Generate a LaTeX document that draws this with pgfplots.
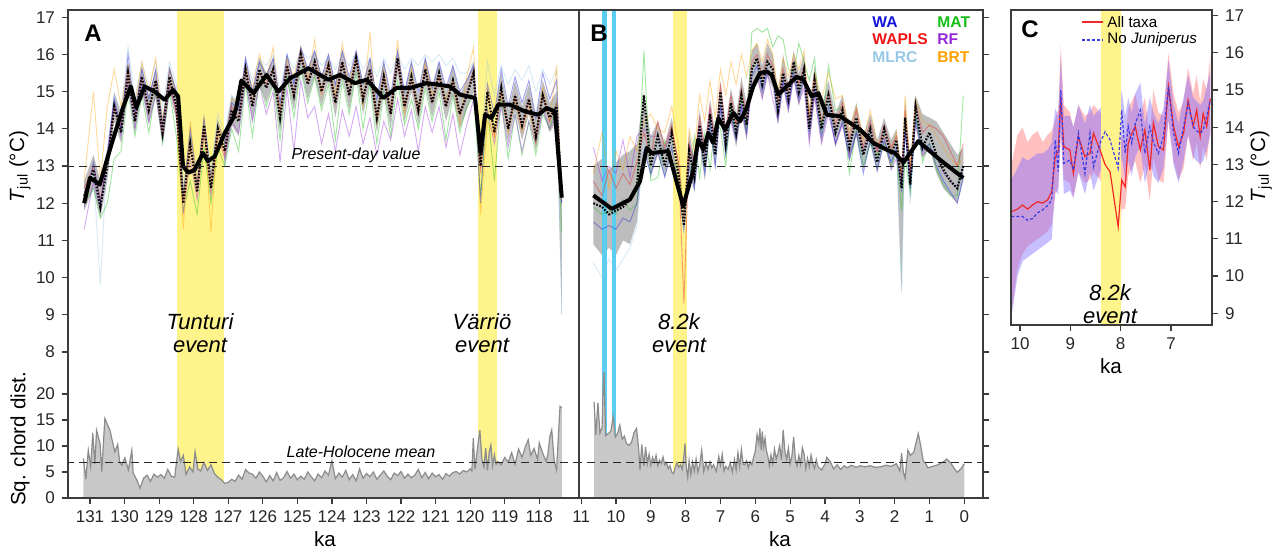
\documentclass[border=0pt]{standalone}
\usepackage{fontspec}
\setmainfont{Liberation Sans}
\usepackage{pgfplots}
\usepackage{pgfplotstable}
\pgfplotsset{compat=1.18}
\usepgfplotslibrary{fillbetween}

\definecolor{cWA}{RGB}{20,20,220}
\definecolor{cWAPLS}{RGB}{240,20,20}
\definecolor{cMLRC}{RGB}{150,200,230}
\definecolor{cMAT}{RGB}{20,190,20}
\definecolor{cRF}{RGB}{150,40,220}
\definecolor{cBRT}{RGB}{255,160,0}
\definecolor{yel}{RGB}{255,244,140}
\definecolor{cyanb}{RGB}{90,205,240}
\definecolor{framecol}{RGB}{60,60,60}
\definecolor{chfill}{RGB}{200,200,200}
\definecolor{chline}{RGB}{140,140,140}
\definecolor{cRed}{RGB}{240,40,40}
\definecolor{cBlue}{RGB}{60,60,230}
\definecolor{bandR}{RGB}{255,150,150}
\definecolor{bandB}{RGB}{130,110,255}

% Panel A: ka, mean (dotted), band lo/hi, six methods
\pgfplotstableread{
ka D lo hi wa wp ml mt rf br
131.17 12.2 11.8 12.6 11.9 12.4 12.3 12.0 11.3 12.6
130.9 12.9 12.4 13.3 13.1 13.0 12.8 12.4 12.6 15.0
130.7 11.9 11.6 12.6 12.0 12.1 9.8 11.6 11.8 12.6
130.5 13.0 12.6 13.5 13.2 13.1 13.4 12.0 13.3 14.6
130.3 14.6 14.2 15.0 14.8 14.6 14.9 13.2 14.7 15.6
130.1 13.9 13.6 14.4 14.0 14.1 14.5 13.4 13.8 14.6
129.9 15.5 15.1 15.8 16.0 15.5 16.2 15.0 15.2 15.7
129.7 14.2 13.9 14.6 14.4 14.3 14.8 13.8 14.0 14.7
129.5 15.4 15.0 15.7 15.6 15.4 15.8 14.9 15.2 15.8
129.3 14.5 14.1 14.9 14.8 14.5 15.1 13.9 14.2 15.0
129.1 15.3 14.9 15.6 15.6 15.3 15.8 15.0 14.9 15.9
128.9 13.9 13.6 14.3 14.1 13.8 14.6 13.6 13.7 14.2
128.7 15.4 15.0 15.7 15.6 15.3 15.8 15.0 15.1 15.6
128.5 14.6 14.2 15.0 15.0 14.4 15.2 13.8 14.5 14.9
128.3 12.0 11.7 12.5 12.2 12.0 12.4 11.8 11.7 11.3
128.1 13.6 13.2 14.0 14.0 13.6 13.9 12.6 13.2 14.2
127.9 12.3 12.0 12.7 12.5 12.3 12.8 11.7 12.1 12.6
127.7 14.1 13.7 14.4 14.3 14.0 14.2 13.5 13.9 14.3
127.5 12.4 12.1 12.8 12.7 12.4 12.9 12.0 12.2 11.2
127.3 14.0 13.6 14.4 14.2 14.0 14.4 13.5 13.8 14.1
127.1 13.4 13.0 13.8 13.6 13.3 13.9 13.0 13.2 13.6
126.9 14.5 14.1 14.9 14.7 14.6 14.9 14.0 14.2 14.8
126.7 14.2 13.8 14.6 14.5 14.3 14.7 13.4 13.9 14.8
126.5 15.6 15.2 15.9 15.9 15.6 15.9 15.2 15.3 15.7
126.3 14.6 14.2 15.0 15.0 14.7 15.3 13.8 14.2 15.1
126.1 15.6 15.2 15.9 15.8 15.5 15.9 15.3 15.2 16.0
125.9 15.1 14.7 15.5 15.4 15.2 15.7 14.6 14.4 15.3
125.7 15.6 15.2 15.9 15.9 15.6 16.0 15.2 15.0 16.2
125.5 14.3 13.9 14.8 14.7 14.4 15.0 13.7 13.1 14.5
125.3 15.7 15.3 16.0 16.0 15.7 16.0 15.4 15.1 15.9
125.1 14.9 14.5 15.3 15.2 14.9 15.6 14.3 13.4 15.4
124.9 16.0 15.6 16.2 16.2 16.0 16.1 15.6 15.3 16.2
124.7 15.2 14.8 15.6 15.6 15.3 15.9 14.7 14.3 15.3
124.5 15.8 15.4 16.1 16.1 15.8 16.0 15.4 14.6 16.4
124.3 15.0 14.6 15.4 15.4 15.0 15.7 14.5 13.6 14.9
124.1 15.7 15.3 16.0 16.0 15.8 15.9 15.2 14.4 15.8
123.9 14.7 14.3 15.2 15.2 14.7 15.6 13.7 13.4 14.9
123.7 15.8 15.4 16.1 16.1 15.8 16.0 15.3 14.5 16.3
123.5 14.9 14.5 15.3 15.4 14.9 15.7 14.4 13.8 15.2
123.3 15.9 15.5 16.1 16.1 15.9 16.0 15.5 14.6 16.0
123.1 14.8 14.4 15.2 15.2 14.8 15.6 14.0 13.6 14.6
122.9 15.6 15.2 15.9 15.9 15.6 15.9 15.2 14.3 16.6
122.7 14.3 13.9 14.8 14.8 14.3 15.4 13.6 13.3 14.1
122.5 15.4 15.0 15.8 15.8 15.4 15.9 15.0 14.2 15.6
122.3 14.4 14.0 14.8 14.9 14.4 15.5 13.8 13.7 14.5
122.1 15.9 15.5 16.1 16.1 15.8 16.0 15.3 14.8 16.4
121.9 14.6 14.2 15.0 15.0 14.6 15.6 14.1 13.8 14.4
121.7 15.4 15.0 15.8 15.8 15.3 15.9 14.8 14.5 15.6
121.5 14.5 14.1 14.9 15.0 14.4 15.7 14.0 13.4 14.4
121.3 15.6 15.2 15.9 15.9 15.6 16.0 15.1 14.6 15.8
121.1 14.7 14.3 15.1 15.1 14.7 15.8 14.2 13.9 14.9
120.9 15.5 15.1 15.8 15.8 15.4 16.0 15.0 14.6 15.4
120.7 14.6 14.2 15.0 15.1 14.6 15.7 13.7 13.5 14.8
120.5 15.3 14.9 15.7 15.7 15.3 15.9 14.9 14.4 15.3
120.3 14.4 14.0 14.9 15.0 14.4 15.5 13.9 13.3 14.1
120.1 14.9 14.5 15.3 15.3 14.9 15.5 14.6 14.1 15.4
119.9 15.5 15.0 15.8 15.7 15.6 15.8 14.9 14.8 16.2
119.7 13.0 12.6 13.6 12.0 12.8 13.4 12.2 13.0 11.7
119.5 15.0 14.6 15.4 15.2 15.0 15.8 14.6 14.5 14.2
119.3 13.9 13.5 14.4 14.4 13.8 14.9 12.6 13.6 13.8
119.1 15.1 14.7 15.5 15.6 15.0 15.7 14.8 14.6 15.0
118.9 14.0 13.6 14.5 14.6 14.0 15.2 13.2 13.5 13.9
118.7 14.9 14.5 15.3 15.4 14.9 15.6 14.4 14.4 14.8
118.5 14.1 13.7 14.6 14.7 14.0 15.3 13.3 13.4 13.9
118.3 14.8 14.4 15.2 15.3 14.8 15.7 14.2 14.2 14.6
118.1 13.8 13.4 14.3 14.3 13.8 15.0 13.3 13.6 13.6
117.9 14.9 14.5 15.3 15.5 14.9 15.6 14.4 14.5 15.1
117.7 14.3 13.9 14.7 14.8 14.2 15.2 14.0 14.0 14.2
117.5 14.6 14.2 15.0 15.3 14.7 15.6 14.7 14.4 15.7
117.35 12.2 9.0 12.6 12.0 12.3 9.0 11.2 12.0 12.1
}\tabA

\pgfplotstableread{
ka T
131.17 12.0
131.0 12.68
130.86 12.6
130.72 12.5
130.38 13.58
130.05 14.56
129.82 15.14
129.66 14.57
129.42 15.14
129.13 15.0
128.84 14.78
128.6 15.05
128.45 14.87
128.31 13.0
128.16 12.82
127.97 12.9
127.73 13.35
127.59 13.13
127.39 13.26
127.1 13.89
126.86 14.29
126.77 14.56
126.62 15.3
126.27 14.96
125.89 15.45
125.55 15.0
125.21 15.36
124.68 15.63
124.10 15.32
123.77 15.45
123.33 15.23
122.99 15.32
122.51 14.83
122.13 15.1
121.74 15.1
121.26 15.23
120.58 15.14
120.29 14.92
119.86 14.83
119.70 13.35
119.57 14.38
119.38 14.29
119.19 14.65
118.85 14.65
118.42 14.47
118.03 14.38
117.79 14.56
117.55 14.47
117.35 12.15
}\smA

\pgfplotstableread{
ka c
131.19 7.6
131.12 3.6
131.05 9.2
130.98 6.0
130.92 12.5
130.86 6.5
130.81 13.0
130.71 10.5
130.66 5.1
130.57 15.3
130.50 14.2
130.42 13.0
130.35 10.8
130.28 8.9
130.20 10.3
130.14 6.9
130.08 6.3
129.99 7.7
129.89 5.4
129.79 9.2
129.75 4.8
129.65 3.5
129.55 1.9
129.45 3.8
129.35 4.4
129.25 3.2
129.15 4.6
129.05 4.0
128.95 4.5
128.85 3.8
128.75 5.5
128.65 4.2
128.55 4.0
128.45 9.4
128.38 7.0
128.30 8.2
128.22 4.5
128.12 6.0
128.02 5.0
127.96 8.9
127.88 5.6
127.80 5.2
127.70 6.8
127.60 5.3
127.50 6.4
127.40 4.7
127.30 4.0
127.20 3.5
127.10 2.8
127.00 3.0
126.90 3.6
126.80 3.2
126.70 4.4
126.60 3.6
126.50 5.5
126.40 4.8
126.30 4.6
126.20 3.8
126.10 5.0
126.00 4.2
125.90 3.1
125.80 4.3
125.70 3.3
125.60 4.9
125.50 3.4
125.40 3.9
125.30 5.1
125.20 3.8
125.10 4.6
125.00 3.5
124.90 4.2
124.80 3.6
124.70 5.0
124.60 4.1
124.50 3.3
124.40 4.6
124.30 3.9
124.20 5.2
124.10 4.4
124.00 7.2
123.90 3.7
123.80 4.8
123.70 4.0
123.60 5.3
123.50 3.5
123.40 4.5
123.30 3.3
123.20 5.6
123.10 3.8
123.00 4.7
122.90 4.1
122.80 5.0
122.70 3.6
122.60 4.4
122.50 5.2
122.40 4.2
122.30 3.5
122.20 4.8
122.10 4.3
122.00 5.1
121.90 3.8
121.80 4.6
121.70 3.9
121.60 4.4
121.50 5.5
121.40 3.9
121.30 4.9
121.20 3.7
121.10 4.8
121.00 4.1
120.90 4.5
120.80 3.6
120.70 4.7
120.60 4.2
120.50 4.9
120.40 5.1
120.30 4.6
120.20 5.3
120.10 5.0
120.00 5.6
119.95 5.2
119.91 11.5
119.86 5.5
119.80 9.0
119.72 13.1
119.66 7.4
119.60 6.0
119.55 9.6
119.50 5.3
119.45 8.8
119.40 10.2
119.35 6.2
119.30 8.3
119.25 6.5
119.20 7.0
119.10 6.4
119.00 7.8
118.90 6.9
118.80 8.7
118.70 6.5
118.60 9.4
118.50 7.8
118.40 9.9
118.32 11.2
118.25 8.2
118.15 9.5
118.05 7.4
118.00 10.6
117.90 8.6
117.80 7.0
117.75 8.5
117.70 11.6
117.64 13.1
117.57 7.3
117.50 5.4
117.40 17.6
117.35 17.4
}\chA

% Panel B
\pgfplotstableread{
ka D lo hi wa wp ml mt rf br
10.65 12.0 10.9 13.0 11.5 12.6 10.4 11.9 13.5 12.8
10.4 11.9 10.6 13.2 11.3 12.2 10.0 11.7 12.6 13.9
10.2 11.7 10.8 12.9 11.4 12.9 10.5 11.8 13.0 12.4
10.0 11.8 10.6 13.1 11.3 12.4 10.2 11.7 12.8 13.4
9.8 11.9 11.0 13.3 11.6 12.8 10.5 12.1 13.7 12.9
9.6 12.1 10.9 13.4 11.5 12.5 10.8 11.8 12.7 13.8
9.4 12.4 11.5 13.6 12.0 13.1 11.4 12.0 13.8 13.4
9.2 14.9 13.6 15.0 13.4 13.9 13.6 16.1 14.0 14.2
9.0 13.0 12.7 13.8 12.8 13.3 12.7 12.6 13.8 14.4
8.8 13.8 13.3 14.2 13.4 14.2 13.6 12.7 13.8 14.0
8.6 13.0 12.7 13.6 12.7 13.5 12.8 13.7 13.4 13.9
8.4 13.9 13.3 14.3 13.5 14.1 13.7 13.1 14.0 14.6
8.2 12.7 12.3 13.3 12.4 13.0 12.4 12.9 13.1 13.5
8.05 11.4 10.9 12.0 11.3 9.3 11.2 11.8 11.6 11.5
7.9 13.4 12.9 13.9 13.0 13.6 13.1 12.5 13.6 14.0
7.75 12.7 12.3 13.2 12.4 13.1 12.5 13.8 12.9 13.4
7.6 14.1 13.6 14.5 13.8 14.3 14.0 12.7 14.1 14.9
7.45 13.0 12.6 13.6 12.8 13.5 12.8 13.9 13.3 14.2
7.3 14.4 13.9 14.8 14.1 14.6 14.3 12.9 14.5 15.3
7.15 13.3 12.9 13.9 13.0 13.6 13.2 14.2 13.5 14.3
7.0 15.0 14.4 15.3 14.6 15.2 14.8 14.0 14.6 15.6
6.85 13.6 13.2 14.1 13.3 13.9 13.5 13.0 13.9 14.9
6.7 14.7 14.2 15.1 14.4 14.9 14.6 14.6 14.2 15.8
6.55 13.9 13.5 14.4 13.7 14.1 13.8 13.7 13.7 15.2
6.4 14.9 14.4 15.4 14.6 15.1 14.8 15.0 14.6 16.0
6.25 14.1 13.7 14.7 13.9 14.3 14.0 13.9 13.8 15.4
6.1 15.6 15.2 16.1 15.4 15.8 15.4 16.6 15.2 16.1
5.95 15.9 15.4 16.3 15.7 16.0 15.7 16.7 15.4 16.3
5.8 15.2 14.8 15.7 15.0 15.4 15.0 16.6 14.8 15.8
5.65 15.8 15.4 16.3 15.6 16.0 15.6 16.7 15.5 16.4
5.5 15.6 15.1 16.0 15.4 15.7 15.4 16.2 14.8 16.0
5.35 14.5 14.1 15.0 14.3 14.7 14.3 16.5 14.2 15.0
5.2 15.5 15.1 16.0 15.3 15.6 15.3 16.4 15.2 15.9
5.05 14.8 14.4 15.2 14.6 15.0 14.6 15.6 14.5 15.4
4.9 15.8 15.3 16.1 15.5 15.8 15.6 15.5 15.4 16.0
4.75 15.0 14.6 15.5 14.8 15.2 14.9 16.3 14.7 15.6
4.6 15.6 15.2 16.0 15.4 15.7 15.5 15.8 15.1 16.1
4.45 14.0 13.6 14.6 13.9 14.2 13.9 15.3 13.6 14.4
4.3 15.3 14.8 15.7 15.1 15.4 15.2 15.9 14.9 15.5
4.1 14.0 13.6 14.6 13.8 14.2 13.9 13.9 13.6 14.8
3.9 14.9 14.5 15.3 14.6 15.0 14.8 15.7 14.4 15.5
3.7 13.9 13.5 14.4 13.6 14.1 13.8 14.5 13.6 14.8
3.5 14.5 14.1 14.9 14.2 14.7 14.4 14.6 14.1 14.9
3.3 13.5 13.1 14.0 13.2 13.7 13.4 12.8 13.3 13.9
3.1 14.3 13.8 14.7 13.9 14.5 14.1 14.0 13.9 14.6
2.9 13.3 12.9 13.8 12.8 13.5 13.1 13.0 13.4 13.7
2.7 14.0 13.6 14.4 13.7 14.2 13.9 13.6 13.8 14.5
2.5 13.1 12.8 13.7 12.9 13.4 13.0 13.3 13.4 13.6
2.3 14.0 13.6 14.3 13.7 14.1 13.9 13.6 13.8 13.8
2.1 13.3 12.9 13.7 13.1 13.5 13.1 13.0 12.9 13.4
1.95 13.7 13.3 14.0 13.5 13.8 13.6 13.4 13.2 13.9
1.8 12.4 9.6 12.9 12.3 12.7 9.6 11.8 12.5 12.6
1.7 14.3 13.9 14.8 14.0 14.5 14.0 13.2 13.9 14.9
1.55 12.5 12.1 13.1 12.4 12.8 12.0 12.3 12.7 13.0
1.4 14.6 14.1 14.9 14.3 14.7 14.2 14.4 14.1 14.8
1.2 13.5 13.2 14.4 13.4 13.9 13.5 13.1 13.3 14.2
1.0 13.9 13.5 14.3 13.6 14.1 13.8 13.6 13.5 14.1
0.8 13.3 12.8 14.2 13.0 14.0 13.2 12.9 13.3 13.8
0.6 12.9 12.4 13.9 12.6 13.8 12.6 12.5 12.8 13.5
0.4 12.6 12.2 13.6 12.3 13.4 12.3 12.2 12.6 13.2
0.2 12.4 12.0 13.3 12.0 13.0 12.1 12.2 12.4 13.0
0.03 13.0 12.6 13.5 12.7 13.6 12.8 14.9 13.0 13.2
}\tabB

\pgfplotstableread{
ka T
10.65 12.21
10.12 11.85
9.60 12.10
9.31 12.59
9.12 13.49
8.98 13.35
8.50 13.40
8.07 11.92
7.78 12.90
7.64 13.71
7.49 13.44
7.35 13.89
7.21 13.62
7.06 14.29
6.87 13.98
6.63 14.43
6.44 14.20
6.25 14.56
6.06 15.14
5.87 15.50
5.67 15.54
5.53 15.45
5.34 14.92
5.10 15.14
4.81 15.40
4.62 15.32
4.38 14.87
4.19 14.96
3.95 14.38
3.57 14.34
2.99 13.98
2.61 13.62
2.23 13.44
1.99 13.35
1.75 13.09
1.32 13.67
0.70 13.17
0.03 12.68
}\smB

\pgfplotstableread{
ka c
10.63 18.5
10.58 12.1
10.52 18.3
10.46 12.5
10.40 13.5
10.35 26.0
10.30 12.0
10.22 12.4
10.15 12.8
10.08 15.6
10.02 11.7
9.95 12.5
9.89 14.0
9.82 11.3
9.76 11.9
9.70 10.5
9.62 10.1
9.55 10.8
9.48 12.6
9.41 13.4
9.35 9.5
9.31 5.4
9.26 10.3
9.20 6.2
9.15 9.8
9.10 6.6
9.05 8.4
9.00 6.3
8.95 7.8
8.90 6.8
8.85 8.2
8.80 6.2
8.75 7.3
8.70 6.6
8.65 7.9
8.60 6.4
8.55 6.8
8.50 5.6
8.45 6.2
8.40 5.0
8.35 4.7
8.30 5.8
8.25 6.8
8.20 5.9
8.15 6.4
8.10 5.5
8.05 8.0
8.02 10.5
7.98 5.9
7.94 3.9
7.90 7.2
7.85 4.5
7.80 6.9
7.75 5.2
7.70 7.5
7.65 5.0
7.60 6.3
7.54 9.2
7.48 5.1
7.42 6.8
7.36 5.5
7.30 7.0
7.25 5.8
7.20 6.4
7.12 5.1
7.05 8.0
7.00 6.3
6.95 8.4
6.90 5.2
6.85 6.1
6.78 5.5
6.72 6.8
6.66 5.0
6.60 7.4
6.55 5.4
6.50 8.7
6.45 6.0
6.40 9.3
6.35 6.5
6.30 6.4
6.25 7.2
6.20 5.8
6.15 7.0
6.10 6.4
6.05 7.8
6.00 9.0
5.95 12.2
5.90 10.5
5.87 13.4
5.83 9.2
5.80 12.8
5.76 9.8
5.72 11.5
5.68 9.0
5.64 8.1
5.60 6.2
5.55 8.3
5.50 6.6
5.45 9.4
5.40 7.5
5.35 8.6
5.30 10.1
5.25 7.3
5.20 13.1
5.15 8.9
5.10 7.4
5.05 9.6
5.00 6.5
4.95 8.0
4.90 11.7
4.85 7.6
4.80 6.2
4.75 8.2
4.70 6.5
4.65 9.7
4.60 8.5
4.55 5.6
4.50 7.6
4.45 6.0
4.40 8.3
4.35 6.6
4.30 5.7
4.25 7.4
4.20 6.0
4.10 5.4
4.00 6.5
3.95 7.8
3.85 7.0
3.75 5.6
3.65 6.4
3.55 5.5
3.45 6.2
3.35 5.8
3.25 6.3
3.10 5.9
3.00 6.2
2.85 6.0
2.70 6.2
2.55 5.9
2.40 6.0
2.25 6.3
2.10 6.1
1.95 6.6
1.85 5.2
1.80 8.6
1.75 5.0
1.70 3.8
1.62 9.2
1.55 8.2
1.45 8.8
1.38 10.8
1.32 12.4
1.25 10.0
1.18 7.2
1.10 6.5
1.05 5.8
0.90 6.1
0.75 6.4
0.60 7.0
0.50 7.5
0.40 6.8
0.30 5.8
0.20 4.9
0.10 5.6
0.00 6.6
}\chB

% Panel C
\pgfplotstableread{
ka r rlo rhi b blo bhi
10.17 11.73 9.0 13.0 11.6 8.9 12.6
10.05 11.8 10.2 13.8 11.6 10.0 12.9
9.95 11.91 10.6 14.0 11.6 10.4 13.2
9.85 11.8 10.8 13.6 11.5 10.5 13.1
9.75 11.91 10.9 13.8 11.55 10.6 13.2
9.65 12.0 11.0 13.9 11.7 10.7 13.3
9.55 11.96 11.1 13.6 11.78 10.8 13.3
9.45 12.05 11.2 13.8 11.9 10.9 13.4
9.37 12.27 11.4 13.9 12.05 11.0 13.6
9.30 13.21 12.2 14.2 13.66 12.3 14.5
9.24 13.35 12.4 14.5 12.81 12.2 14.3
9.19 14.82 13.8 16.2 15.0 14.0 15.9
9.13 13.48 12.6 14.6 13.03 12.2 14.3
9.01 13.39 12.5 14.4 13.12 12.3 14.3
8.94 12.76 12.1 14.0 12.85 12.1 14.0
8.84 13.75 12.8 14.6 13.84 12.8 14.6
8.71 13.21 12.5 14.3 12.76 12.2 14.1
8.61 13.3 12.6 14.4 13.84 12.8 14.6
8.54 13.84 12.8 14.6 12.94 12.3 14.3
8.41 13.39 12.6 14.4 13.57 12.8 14.5
8.31 13.0 12.2 14.2 13.88 13.0 14.7
8.21 12.8 11.7 14.5 13.66 12.9 14.6
8.05 11.33 10.0 12.8 12.9 12.3 14.0
7.98 12.58 11.8 13.8 14.46 13.2 15.0
7.91 12.4 11.8 13.6 13.3 12.6 14.3
7.85 13.57 12.7 14.5 14.02 13.1 14.8
7.78 13.84 12.9 14.7 13.57 12.7 14.4
7.71 14.02 13.1 14.9 14.1 13.2 14.9
7.61 13.39 12.5 14.3 14.46 13.5 15.2
7.52 13.93 13.0 14.8 13.3 12.5 14.1
7.42 12.85 12.0 13.8 14.02 13.1 14.8
7.35 14.11 13.2 15.0 13.6 12.7 14.4
7.25 13.48 12.6 14.4 13.3 12.5 14.1
7.15 13.39 12.5 14.3 13.75 12.9 14.5
7.05 15.09 14.2 16.0 15.09 14.2 15.8
6.95 14.02 13.1 14.9 13.84 13.0 14.6
6.85 13.48 12.6 14.4 13.3 12.5 14.1
6.75 13.84 12.9 14.7 14.02 13.1 14.8
6.66 14.73 13.8 15.6 14.64 13.8 15.4
6.56 14.02 13.1 14.9 14.02 13.2 14.8
6.49 14.46 13.6 15.4 13.9 13.1 14.7
6.42 13.75 12.9 14.7 13.84 13.0 14.6
6.36 14.37 13.5 15.3 13.93 13.1 14.7
6.29 14.02 13.1 15.0 14.3 13.4 15.1
6.22 14.77 13.9 15.9 14.73 13.8 15.5
}\tabC

\pgfplotsset{
  base/.style={scale only axis, anchor=south west,
    axis line style={draw=none}, tick align=outside,
    major tick length=3pt,
    every tick/.style={framecol, line width=0.6pt},
    tick label style={font=\fontsize{8.5}{10}\selectfont, text=black!85},
    /pgf/number format/assume math mode=true,
    clip=true},
  colline/.style={line width=0.45pt, draw opacity=0.4},
  dotline/.style={black, dash pattern=on 0.8pt off 0.8pt, line width=1.1pt},
  smline/.style={black, line width=2pt, line join=round},
}
\tikzset{refline/.style={black!85, dash pattern=on 4pt off 2.5pt, line width=0.5pt}}

\begin{document}
\begin{tikzpicture}

% ---------- Panel A top ----------
\begin{axis}[base, at={(34pt,88.5pt)}, width=255.5pt, height=181.5pt,
  x dir=reverse, xmin=116.851, xmax=131.637, ymin=7.435, ymax=17.196,
  xtick=\empty, ytick={8,9,...,17}, ytick pos=left]
\fill[yel] (axis cs:128.49,7) rectangle (axis cs:127.11,18);
\fill[yel] (axis cs:119.76,7) rectangle (axis cs:119.23,18);
\addplot[name path=hiA, draw=none] table[x=ka,y=hi]{\tabA};
\addplot[name path=loA, draw=none] table[x=ka,y=lo]{\tabA};
\addplot[black!30, fill opacity=0.85] fill between[of=hiA and loA];
\addplot[cMLRC, colline] table[x=ka,y=ml]{\tabA};
\addplot[cMAT, colline] table[x=ka,y=mt]{\tabA};
\addplot[cRF, colline] table[x=ka,y=rf]{\tabA};
\addplot[cBRT, colline] table[x=ka,y=br]{\tabA};
\addplot[cWAPLS, colline] table[x=ka,y=wp]{\tabA};
\addplot[cWA, colline] table[x=ka,y=wa]{\tabA};
\addplot[dotline] table[x=ka,y=D]{\tabA};
\addplot[smline] table[x=ka,y=T]{\smA};
\draw[refline] (axis cs:131.7,13) -- (axis cs:116.8,13);
\end{axis}

% ---------- Panel A bottom ----------
\begin{axis}[base, at={(34pt,26pt)}, width=255.5pt, height=62.5pt,
  x dir=reverse, xmin=116.851, xmax=131.637, ymin=0, ymax=24.04,
  xtick={118,...,131}, xtick pos=bottom, ytick={0,5,10,15,20}, ytick pos=left]
\fill[yel] (axis cs:128.49,-1) rectangle (axis cs:127.11,30);
\fill[yel] (axis cs:119.76,-1) rectangle (axis cs:119.23,30);
\addplot[fill=chfill, draw=none] table[x=ka,y=c]{\chA} \closedcycle;
\addplot[chline, line width=0.6pt] table[x=ka,y=c]{\chA};
\draw[refline] (axis cs:131.7,6.8) -- (axis cs:116.8,6.8);
\end{axis}

% ---------- Panel B top ----------
\begin{axis}[base, at={(289.5pt,88.5pt)}, width=202pt, height=181.5pt,
  x dir=reverse, xmin=-0.537, xmax=11.062, ymin=7.435, ymax=17.196,
  xtick=\empty, ytick={8,9,...,17}, ytick pos=right, yticklabels={}]
\fill[cyanb] (axis cs:10.40,7) rectangle (axis cs:10.27,18);
\fill[cyanb] (axis cs:10.12,7) rectangle (axis cs:10.00,18);
\fill[yel] (axis cs:8.35,7) rectangle (axis cs:7.97,18);
\addplot[name path=hiB, draw=none] table[x=ka,y=hi]{\tabB};
\addplot[name path=loB, draw=none] table[x=ka,y=lo]{\tabB};
\addplot[black!30, fill opacity=0.85] fill between[of=hiB and loB];
\addplot[cMLRC, colline] table[x=ka,y=ml]{\tabB};
\addplot[cMAT, colline] table[x=ka,y=mt]{\tabB};
\addplot[cRF, colline] table[x=ka,y=rf]{\tabB};
\addplot[cBRT, colline] table[x=ka,y=br]{\tabB};
\addplot[cWAPLS, colline] table[x=ka,y=wp]{\tabB};
\addplot[cWA, colline] table[x=ka,y=wa]{\tabB};
\addplot[dotline] table[x=ka,y=D]{\tabB};
\addplot[smline] table[x=ka,y=T]{\smB};
\draw[refline] (axis cs:11.2,13) -- (axis cs:-0.6,13);
\end{axis}

% ---------- Panel B bottom ----------
\begin{axis}[base, at={(289.5pt,26pt)}, width=202pt, height=62.5pt,
  x dir=reverse, xmin=-0.537, xmax=11.062, ymin=0, ymax=24.04,
  xtick={0,1,...,11}, xtick pos=bottom, ytick={0,5,10,15,20}, ytick pos=right, yticklabels={}]
\fill[cyanb] (axis cs:10.40,-1) rectangle (axis cs:10.27,30);
\fill[cyanb] (axis cs:10.12,-1) rectangle (axis cs:10.00,30);
\fill[yel] (axis cs:8.35,-1) rectangle (axis cs:7.97,30);
\addplot[fill=chfill, draw=none] table[x=ka,y=c]{\chB} \closedcycle;
\addplot[chline, line width=0.6pt] table[x=ka,y=c]{\chB};
\draw[refline] (axis cs:11.2,6.8) -- (axis cs:-0.6,6.8);
\end{axis}

% ---------- Panel C ----------
\begin{axis}[base, at={(505.5pt,112.5pt)}, width=100.5pt, height=157.5pt,
  x dir=reverse, xmin=6.185, xmax=10.179, ymin=8.685, ymax=17.153,
  xtick={7,8,9,10}, xtick pos=bottom, ytick={9,10,...,17}, ytick pos=right, yticklabel pos=right]
\fill[yel] (axis cs:8.39,8) rectangle (axis cs:7.99,18);
\addplot[name path=rhi, draw=none] table[x=ka,y=rhi]{\tabC};
\addplot[name path=rlo, draw=none] table[x=ka,y=rlo]{\tabC};
\addplot[bandR, fill opacity=0.6] fill between[of=rhi and rlo];
\addplot[name path=bhi, draw=none] table[x=ka,y=bhi]{\tabC};
\addplot[name path=blo, draw=none] table[x=ka,y=blo]{\tabC};
\addplot[bandB, fill opacity=0.45] fill between[of=bhi and blo];
\addplot[cRed, line width=0.6pt] table[x=ka,y=r]{\tabC};
\addplot[cBlue, line width=0.6pt, dash pattern=on 1.5pt off 1pt] table[x=ka,y=b]{\tabC};
\end{axis}

\begin{scope}[x=0.5pt,y=0.5pt]
% frames
\draw[framecol, line width=0.9pt] (68,52) rectangle (983,540);
\draw[framecol, line width=0.9pt] (579,52) -- (579,540);
\draw[framecol, line width=0.9pt] (1011,225) rectangle (1212,540);

% labels
\node[rotate=90, font=\fontsize{10.3}{12}\selectfont] at (20,383) {\textit{T}\textsubscript{jul} (°C)};
\node[rotate=90, font=\fontsize{10.3}{12}\selectfont] at (20,111) {Sq. chord dist.};
\node[rotate=90, font=\fontsize{10.3}{12}\selectfont] at (1261,383) {\textit{T}\textsubscript{jul} (°C)};
\node[font=\fontsize{10.3}{12}\selectfont] at (325,11) {ka};
\node[font=\fontsize{10.3}{12}\selectfont] at (780,11) {ka};
\node[font=\fontsize{10.3}{12}\selectfont] at (1111,184) {ka};

\node[font=\fontsize{12}{14}\selectfont\bfseries] at (93,516.5) {A};
\node[font=\fontsize{12}{14}\selectfont\bfseries] at (599,517) {B};
\node[font=\fontsize{12}{14}\selectfont\bfseries] at (1030,521) {C};

\node[align=center, font=\fontsize{11}{11.5}\selectfont\itshape] at (200,217) {Tunturi\\event};
\node[align=center, font=\fontsize{11}{11.5}\selectfont\itshape] at (482,217) {Värriö\\event};
\node[align=center, font=\fontsize{11}{11.5}\selectfont\itshape] at (679,217) {8.2k\\event};
\node[align=center, font=\fontsize{11}{11.5}\selectfont\itshape] at (1110,246) {8.2k\\event};

\node[font=\fontsize{8}{9}\selectfont\itshape] at (356,395) {Present-day value};
\node[font=\fontsize{8}{9}\selectfont\itshape] at (361,98) {Late-Holocene mean};

% legend B
\begin{scope}[every node/.style={anchor=west, inner sep=0pt, font=\fontsize{7.8}{9}\selectfont\bfseries}]
\node[text=cWA] at (872,528) {WA};
\node[text=cMAT] at (937,528) {MAT};
\node[text=cWAPLS] at (872,511) {WAPLS};
\node[text=cRF] at (937,511) {RF};
\node[text=cMLRC] at (872,493) {MLRC};
\node[text=cBRT] at (937,493) {BRT};
\end{scope}

% legend C
\draw[cRed, line width=0.6pt] (1082,528) -- (1103,528);
\draw[cBlue, line width=0.6pt, dash pattern=on 1.5pt off 1pt] (1082,510) -- (1103,510);
\node[anchor=west, inner sep=0pt, font=\fontsize{7.6}{9}\selectfont] at (1107,528) {All taxa};
\node[anchor=west, inner sep=0pt, font=\fontsize{7.6}{9}\selectfont] at (1107,510) {No \textit{Juniperus}};
\end{scope}

\pgfresetboundingbox
\path (0,0) rectangle (637pt,275pt);
\end{tikzpicture}
\end{document}
